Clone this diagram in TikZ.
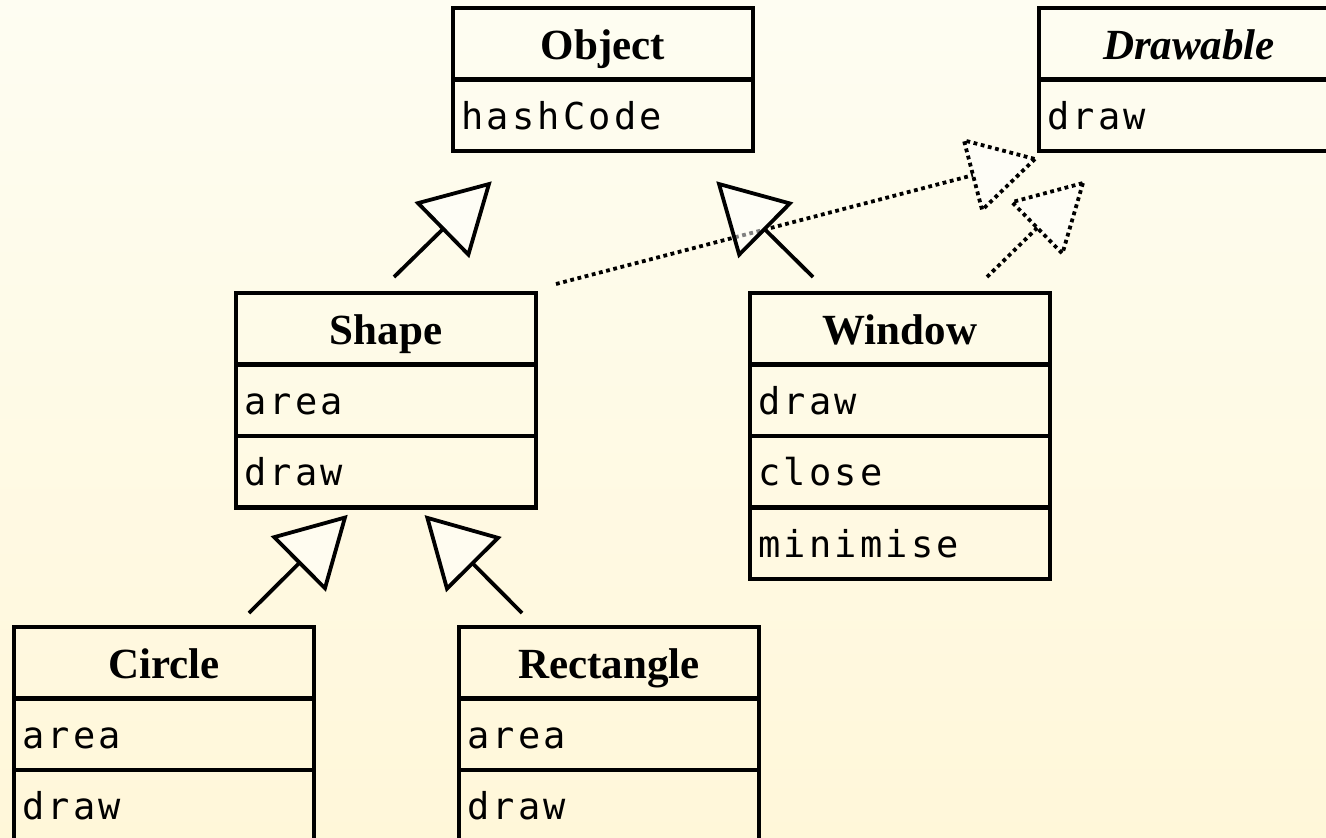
\documentclass[tikz,border=0pt]{standalone}
\usepackage{fontspec}
\setmainfont{Liberation Serif}
\setmonofont{DejaVu Sans Mono}[LetterSpace=8.6]
\usetikzlibrary{positioning, decorations.markings}

\definecolor{bgtop}{RGB}{254,253,242}
\definecolor{bgbot}{RGB}{255,247,217}

\newcommand{\classfont}{\fontsize{43}{50}\selectfont\bfseries}
\newcommand{\memberfont}{\fontsize{37}{44}\selectfont\ttfamily}

\begin{document}
\begin{tikzpicture}[
    x=1pt, y=-1pt,
    box/.style={draw, line width=4.2pt, minimum width=300pt, minimum height=71.5pt, outer sep=0pt},
    classname/.style={box, font=\classfont, text height=31pt, text depth=0pt},
    member/.style={box, font=\memberfont, text width=283pt, inner xsep=8.5pt, align=left, text height=28pt, text depth=0pt},
    extends/.style={line width=3.8pt, shorten >=64pt, postaction={decorate},
        decoration={markings, mark=at position 1 with {\draw[solid, line width=3.8pt, fill=white, fill opacity=.5] (0,0) -- (-64,36) -- (-64,-36) -- cycle;}}},
    implements/.style={line width=3.8pt, dash pattern=on 3.8pt off 3.6pt, shorten >=64pt, postaction={decorate},
        decoration={markings, mark=at position 1 with {\draw[line width=3.8pt, dash pattern=on 3.8pt off 3.6pt, fill=white, fill opacity=.5] (0,0) -- (-64,36) -- (-64,-36) -- cycle;}}}
    ]

    %Background
    \useasboundingbox (0,0) rectangle (1326,838);
    \shade[top color=bgtop, bottom color=bgbot] (0,0) rectangle (1326,838);
    \clip (0,0) rectangle (1326,838);

    %Nodes
    \node[classname] at (603, 43.75) (obj) {Object};
    \node[member, below=0pt of obj] (obj1) {hashCode};

    \node[classname] at (1189, 43.75) (drw) {\itshape Drawable};
    \node[member, below=0pt of drw] (drw1) {draw};

    \node[classname] at (386, 328.75) (shp) {Shape};
    \node[member, below=0pt of shp] (shp1) {area};
    \node[member, below=0pt of shp1] (shp2) {draw};

    \node[classname] at (900, 328.75) (win) {Window};
    \node[member, below=0pt of win] (win1) {draw};
    \node[member, below=0pt of win1] (win2) {close};
    \node[member, below=0pt of win2] (win3) {minimise};

    \node[classname] at (164, 662.75) (cir) {Circle};
    \node[member, below=0pt of cir] (cir1) {area};
    \node[member, below=0pt of cir1] (cir2) {draw};

    \node[classname] at (609, 662.75) (rct) {Rectangle};
    \node[member, below=0pt of rct] (rct1) {area};
    \node[member, below=0pt of rct1] (rct2) {draw};

    %Lines
    \draw[implements] ([shift={(20,-9)}]shp.north east) -- ([shift={(-4,8)}]drw1.south west);
    \draw[implements] ([shift={(-63,-16)}]win.north east) -- ([shift={(44,32)}]drw1.south west);

    \draw[extends] ([shift={(8,-16)}]shp.north) -- ([shift={(-114,33)}]obj1.south);
    \draw[extends] ([shift={(-87,-16)}]win.north) -- ([shift={(116,33)}]obj1.south);
    \draw[extends] ([shift={(85,-14)}]cir.north) -- ([shift={(-41,10)}]shp2.south);
    \draw[extends] ([shift={(-87,-14)}]rct.north) -- ([shift={(41,10)}]shp2.south);
\end{tikzpicture}
\end{document}
